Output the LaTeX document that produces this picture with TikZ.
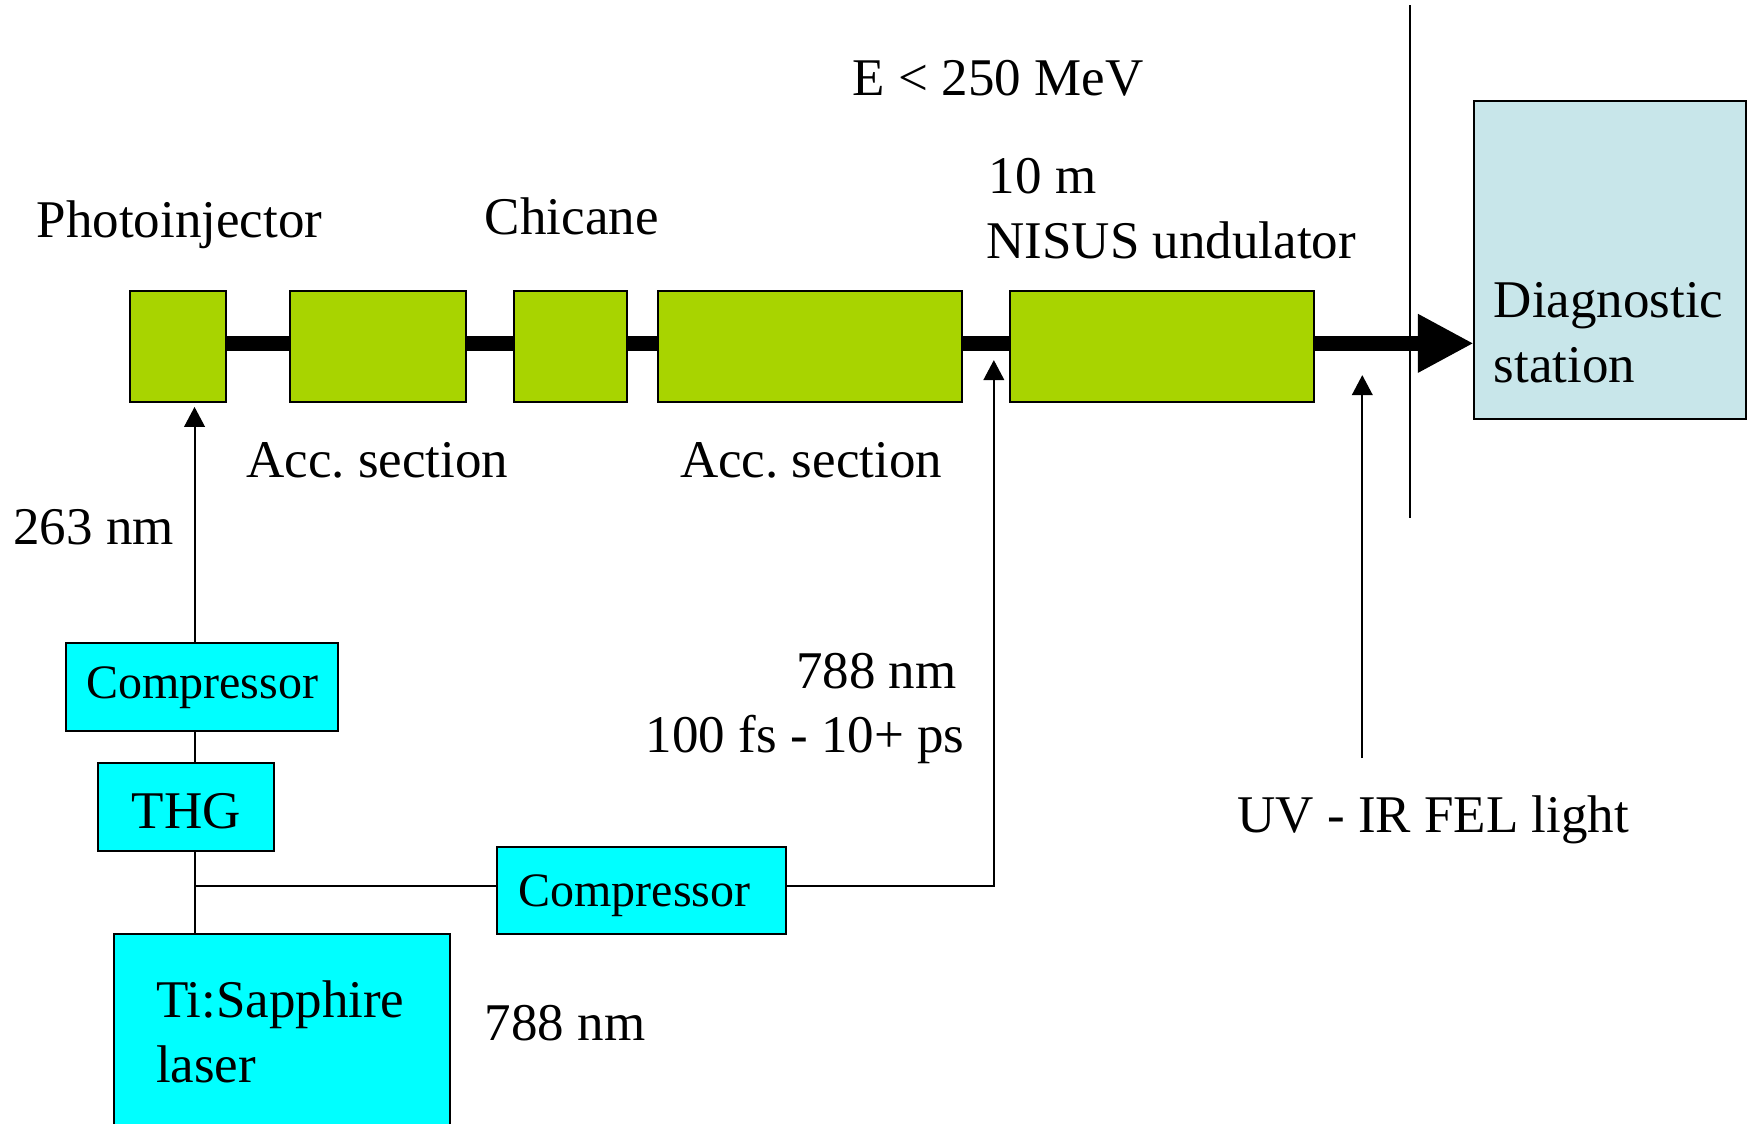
\documentclass[tikz,border=0pt]{standalone}
\usepackage{fontspec}
\setmainfont{Liberation Serif}
\usetikzlibrary{arrows.meta,backgrounds}
\definecolor{accgreen}{RGB}{168,212,0}
\definecolor{lasercyan}{RGB}{0,255,255}
\definecolor{diagblue}{RGB}{200,230,234}
\tikzset{
  lbl/.style={inner sep=0pt, outer sep=0pt, anchor=base west, font=\fontsize{26.5pt}{31pt}\selectfont},
  lblr/.style={lbl, anchor=base east},
  gbox/.style={draw=black, line width=1pt, fill=accgreen, inner sep=0pt, outer sep=0pt, minimum height=55.74pt},
  cbox/.style={draw=black, line width=1pt, fill=lasercyan, inner sep=0pt, outer sep=0pt, text depth=0pt},
  thin/.style={draw=black, line width=1pt},
  smallarrow/.style={thin, -{Triangle[length=10pt,width=10.3pt]}},
  beam/.style={draw=black, line width=7.5pt, -{Triangle[length=27.9pt,width=27.3pt]}}
}
\begin{document}
\begin{tikzpicture}[x=0.5574pt,y=-0.5574pt]
\useasboundingbox (0,0) rectangle (1568,1008);
\clip (0,0) rectangle (1568,1008);

% beamline components
\node[gbox, minimum width=47.94pt] (pi) at (160,311) {};
\node[gbox, minimum width=88.07pt] (acc1) at (339,311) {};
\node[gbox, minimum width=56.30pt] (chic) at (511.5,311) {};
\node[gbox, minimum width=152.17pt] (acc2) at (726.5,311) {};
\node[gbox, minimum width=152.17pt] (und) at (1042.5,311) {};
\node[draw=black, line width=1pt, fill=diagblue, inner sep=0pt, outer sep=0pt,
      minimum width=136.0pt, minimum height=158.86pt] (diag) at (1444,233.5) {};

\coordinate (bstart) at (203,308);
\begin{pgfonlayer}{background}
\draw[beam] (bstart) -- (bstart -| diag.west);
\end{pgfonlayer}

% laser system
\node[cbox, minimum width=135.7pt, minimum height=44.03pt, text height=12.26pt,
      font=\fontsize{24pt}{28pt}\selectfont] (comp1) at (181.25,616) {Compressor};
\node[cbox, minimum width=88.07pt, minimum height=44.03pt, text height=21.74pt,
      font=\fontsize{26.5pt}{31pt}\selectfont] (thg) at (167,723.5) {THG};
\node[cbox, minimum width=144.37pt, minimum height=43.76pt, text height=16.22pt,
      inner xsep=10.6pt, text width=123.17pt, align=left,
      font=\fontsize{24pt}{28pt}\selectfont] (comp2) at (575.5,798.75) {Compressor};
\node[cbox, minimum width=168.3pt, minimum height=111.5pt] (laser) at (253,938) {};

% coordinates for connectors
\coordinate (pitip) at (174.5,365);
\coordinate (junc) at (174.5,795);
\coordinate (undtip) at (891.5,323);
\coordinate (fel0) at (1222,680);
\coordinate (feltip) at (1222,336.5);
\coordinate (vtop) at (1265,4.5);
\coordinate (vbot) at (1265,465);

% connectors
\draw[smallarrow] (pitip |- comp1.north) -- (pitip);
\draw[thin] (pitip |- thg.north) -- (pitip |- comp1.south);
\draw[thin] (pitip |- thg.south) -- (pitip |- laser.north);
\draw[thin] (junc) -- (junc -| comp2.west);
\draw[smallarrow] (junc -| comp2.east) -| (undtip);
\draw[smallarrow] (fel0) -- (feltip);
\draw[thin] (vtop) -- (vbot);

% labels
\node[lbl] (energy) at (765,86) {E < 250 MeV};
\node[lbl] (lpi) at (33,213) {Photoinjector};
\node[lbl] (lchic) at (435,210) {Chicane};
\node[lbl] (llen) at (887,174) {10 m};
\node[lbl] (lund) at (885,232) {NISUS undulator};
\node[lbl] (lacc1) at (221,428) {Acc.\ section};
\node[lbl] (lacc2) at (610,428) {Acc.\ section};
\node[lbl] (l263) at (12,488) {263 nm};
\node[lblr] (l788a) at (858,618) {788 nm};
\node[lblr] (lfs) at (865,675) {100 fs - 10+ ps};
\node[lbl] (lfel) at (1110,747) {UV - IR FEL light};
\node[lbl] (l788b) at (435,933) {788 nm};
\node[lbl] (ldiag1) at (1340,285) {Diagnostic};
\node[lbl] (ldiag2) at (1340,343) {station};
\node[lbl] (llas1) at (140,913) {Ti:Sapphire};
\node[lbl] (llas2) at (140,971) {laser};
\end{tikzpicture}
\end{document}
